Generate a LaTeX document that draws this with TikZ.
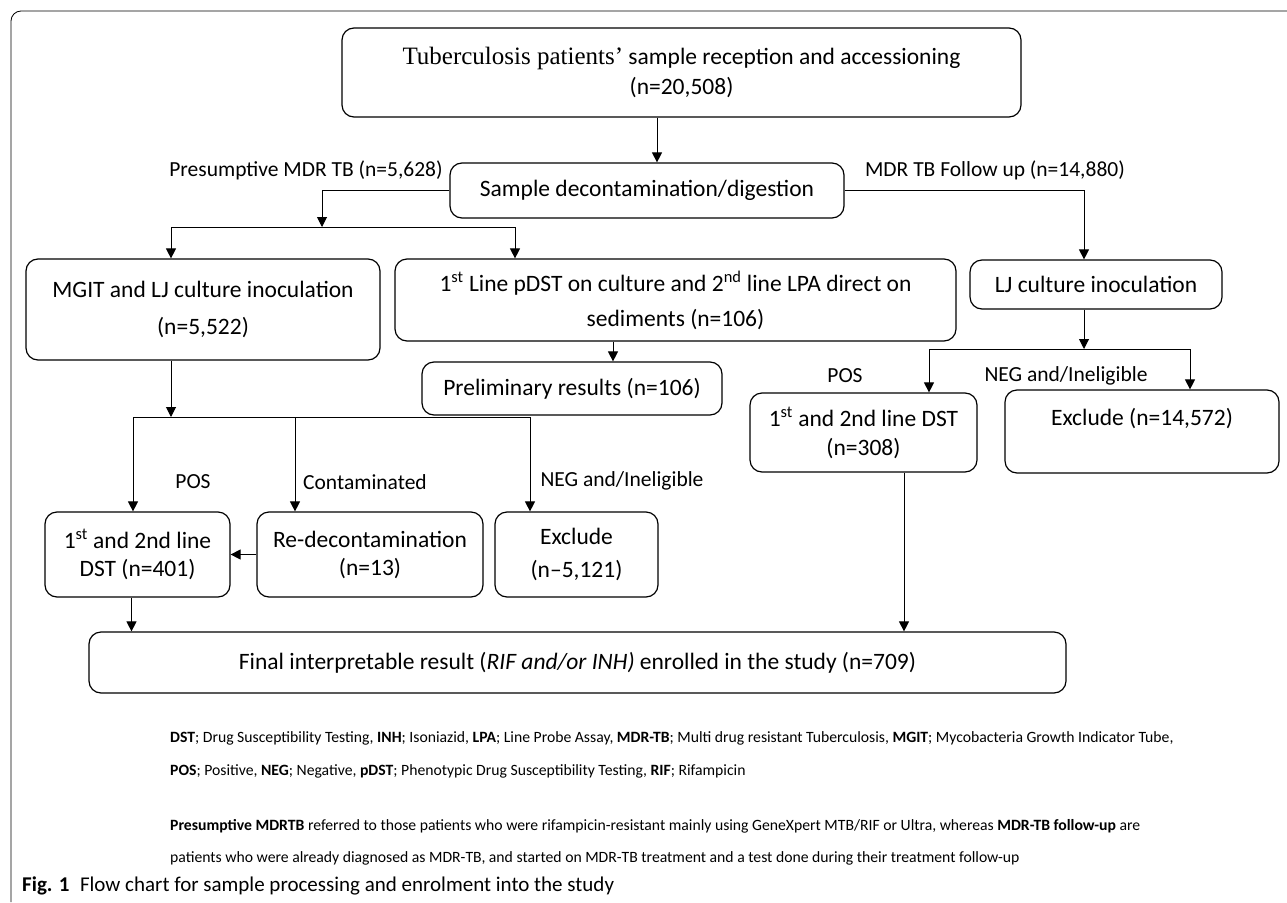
\documentclass[tikz,border=0pt]{standalone}
\usepackage{fontspec}
\setmainfont{Carlito}
\newfontfamily\tbserif{Liberation Serif}
\usetikzlibrary{arrows.meta, positioning, calc}

\begin{document}
\begin{tikzpicture}[x=1pt, y=-1pt,
		box/.style={draw, rounded corners=12pt, line width=1.2pt, align=center, inner sep=0pt, font=\fontsize{23.5}{28}\selectfont},
		lbl/.style={inner sep=0pt, font=\fontsize{21.5}{26}\selectfont},
		note/.style={anchor=west, inner sep=0pt, font=\fontsize{15.7}{19}\selectfont},
		arr/.style={-{Triangle[length=10pt,width=10pt]}, line width=1pt}
	]
	\useasboundingbox (0,0) rectangle (1287,902);
	\draw [line width=0.8pt, rounded corners=10pt] (11,902) -- (11,11) -- (1287,11);

	% boxes
	\node (recv) [box, minimum width=679pt, minimum height=89pt] at (681.5,72.5) {{\tbserif\fontsize{25}{28}\selectfont Tuberculosis patients’} sample reception and accessioning\\[2pt](n=20,508)};
	\node (decon) [box, minimum width=394pt, minimum height=55pt] at (647,190.5) {Sample decontamination/digestion};
	\node (mgit) [box, minimum width=354pt, minimum height=101pt] at (203,309.5) {MGIT and LJ culture inoculation\\[9pt](n=5,522)};
	\node (pdst) [box, minimum width=561pt, minimum height=82pt] at (675.5,300) {1\textsuperscript{st} Line pDST on culture and 2\textsuperscript{nd} line LPA direct on\\[7pt]sediments (n=106)};
	\node (ljcult) [box, minimum width=252pt, minimum height=49pt] at (1096,284.5) {LJ culture inoculation};
	\node (prelim) [box, minimum width=300pt, minimum height=53pt] at (572,388.5) {Preliminary results (n=106)};
	\node (dstmg) [box, minimum width=185pt, minimum height=85pt] at (137.5,554.5) {1\textsuperscript{st} and 2nd line\\DST (n=401)};
	\node (redec) [box, minimum width=226pt, minimum height=85pt] at (370,554.5) {Re-decontamination\\(n=13)};
	\node (exmg) [box, minimum width=163pt, minimum height=85pt] at (576.5,554.5) {Exclude\\[5pt](n–5,121)};
	\node (dstlj) [box, minimum width=227pt, minimum height=79pt] at (863.5,432.5) {1\textsuperscript{st} and 2nd line DST\\[1pt](n=308)};
	\node (exlj) [box, minimum width=274pt, minimum height=83pt] at (1142,431.5) {Exclude (n=14,572)\\[1pt]\mbox{}};
	\node (final) [box, minimum width=977pt, minimum height=61pt] at (577.5,662.5) {Final interpretable result (\textit{RIF and/or INH)} enrolled in the study (n=709)};

	% branch labels
	\node (presum) [lbl] at (306,170) {Presumptive MDR TB (n=5,628)};
	\node (follow) [lbl] at (995,170) {MDR TB Follow up (n=14,880)};
	\node (posmg) [lbl] at (193,482) {POS};
	\node (contam) [lbl] at (365,482) {Contaminated};
	\node (negmg) [lbl] at (622,481) {NEG and/Ineligible};
	\node (poslj) [lbl] at (845,376) {POS};
	\node (neglj) [lbl] at (1066,376) {NEG and/Ineligible};

	% junctions
	\coordinate (presplit) at (322,227);
	\coordinate (mgin) at (171,227);
	\coordinate (pdin) at (515,227);
	\coordinate (mgsplit) at (171,417);
	\coordinate (posin) at (133,417);
	\coordinate (conin) at (295,417);
	\coordinate (negin) at (530,417);
	\coordinate (ljsplit) at (1084,349);
	\coordinate (ljpos) at (929,349);
	\coordinate (ljneg) at (1190,349);
	\coordinate (dmout) at ([xshift=-6pt]dstmg.south);
	\coordinate (dlout) at ([xshift=40.5pt]dstlj.south);

	\draw [arr] ([xshift=-24.5pt]recv.south) -- ([xshift=10pt]decon.north);
	\draw [arr] (decon.west) -| (presplit);
	\draw (mgin) -- (pdin);
	\draw [arr] (mgin) -- (mgin |- mgit.north);
	\draw [arr] (pdin) -- (pdin |- pdst.north);
	\draw [arr] (decon.east) -| ([xshift=-12pt]ljcult.north);
	\draw [arr] ([xshift=-62.5pt]pdst.south) -- ([xshift=41pt]prelim.north);
	\draw [arr] ([xshift=-32pt]mgit.south) -- (mgsplit);
	\draw (posin) -- (negin);
	\draw [arr] (posin) -- (posin |- dstmg.north);
	\draw [arr] (conin) -- (conin |- redec.north);
	\draw [arr] (negin) -- (negin |- exmg.north);
	\draw [arr] (redec) -- (dstmg);
	\draw [arr] (dmout) -- (dmout |- final.north);
	\draw [arr] ([xshift=-12pt]ljcult.south) -- (ljsplit);
	\draw (ljpos) -- (ljneg);
	\draw [arr] (ljpos) -- (ljpos |- dstlj.north);
	\draw [arr] (ljneg) -- (ljneg |- exlj.north);
	\draw [arr] (dlout) -- (dlout |- final.north);

	% notes and caption
	\node (abbr1) [note] at (170,738) {\textbf{DST}; Drug Susceptibility Testing, \textbf{INH}; Isoniazid, \textbf{LPA}; Line Probe Assay, \textbf{MDR-TB}; Multi drug resistant Tuberculosis, \textbf{MGIT}; Mycobacteria Growth Indicator Tube,};
	\node (abbr2) [note] at (170,771) {\textbf{POS}; Positive, \textbf{NEG}; Negative, \textbf{pDST}; Phenotypic Drug Susceptibility Testing, \textbf{RIF}; Rifampicin};
	\node (defn1) [note] at (170,826) {\textbf{Presumptive MDRTB} referred to those patients who were rifampicin-resistant mainly using GeneXpert MTB/RIF or Ultra, whereas \textbf{MDR-TB follow-up} are};
	\node (defn2) [note] at (170,858) {patients who were already diagnosed as MDR-TB, and started on MDR-TB treatment and a test done during their treatment follow-up};
	\node (caption) [anchor=west, inner sep=0pt, font=\fontsize{21}{25}\selectfont] at (22,886) {\textbf{Fig. 1}\enspace Flow chart for sample processing and enrolment into the study};
\end{tikzpicture}
\end{document}
